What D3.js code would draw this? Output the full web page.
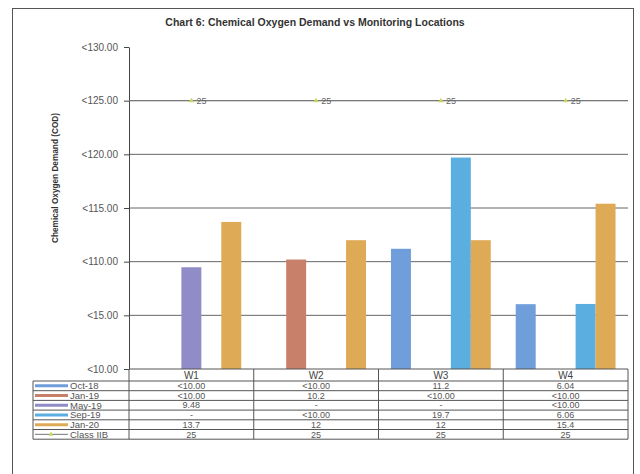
<!DOCTYPE html>
<html>
<head>
<meta charset="utf-8">
<script src="https://cdn.jsdelivr.net/npm/d3@7"></script>
<style>
  body { margin: 0; background: #fff; }
  text { font-family: "Liberation Sans", Arial, sans-serif; }
</style>
</head>
<body>
<div id="chart"></div>
<script>
// categories / series / tick labels
var locations = ["W1", "W2", "W3", "W4"];
var seriesNames = ["Oct-18", "Jan-19", "May-19", "Sep-19", "Jan-20"];
var seriesColors = ["#6f9edb", "#c8806a", "#8f8cc8", "#5aaee0", "#dfaa55"];
// table cells as printed; "<10.00" and "-" get no bar
var oct18 = ["<10.00", "<10.00", "11.2", "6.04"];
var jan19 = ["<10.00", "10.2", "<10.00", "<10.00"];
var may19 = ["9.48", "-", "-", "<10.00"];
var sep19 = ["-", "<10.00", "19.7", "6.06"];
var jan20 = ["13.7", "12", "12", "15.4"];
var classIIB = [25, 25, 25, 25];
var yTicks = [0, 5, 10, 15, 20, 25, 30];
var yTickLabels = ["<10.00", "<15.00", "<110.00", "<115.00", "<120.00", "<125.00", "<130.00"];

var rows = [oct18, jan19, may19, sep19, jan20];

var W = 640, H = 474;
var pLeft = 129, pRight = 628, pTop = 47, pBottom = 369;
var headH = 12, rowH = 9.7, legX = 33;

var svg = d3.select("#chart").append("svg")
    .attr("width", W).attr("height", H);

svg.append("rect").attr("width", W).attr("height", H).attr("fill", "#fff");
// outer chart border (runs off the bottom like the scan)
svg.append("rect")
    .attr("x", 12.5).attr("y", 8.5).attr("width", 621).attr("height", 500)
    .attr("fill", "none").attr("stroke", "#555");

var y = d3.scaleLinear().domain([0, 30]).range([pBottom, pTop]);
var x0 = d3.scaleBand().domain(locations).range([pLeft, pRight]);
var x1 = d3.scaleBand().domain(seriesNames).range([0, x0.bandwidth()])
    .paddingInner(0).paddingOuter(0.625);

// title
svg.append("text")
    .attr("x", 315).attr("y", 26)
    .attr("text-anchor", "middle")
    .attr("font-size", 10.5).attr("font-weight", "bold").attr("fill", "#333")
    .text("Chart 6: Chemical Oxygen Demand vs Monitoring Locations");

// y title
svg.append("text")
    .attr("transform", "translate(58,178) rotate(-90)")
    .attr("text-anchor", "middle")
    .attr("font-size", 8.5).attr("font-weight", "bold").attr("fill", "#333")
    .attr("textLength", 130).attr("lengthAdjust", "spacingAndGlyphs")
    .text("Chemical Oxygen Demand (COD)");

// gridlines
svg.append("g").selectAll("line")
    .data(yTicks.filter(d => d > 0 && d < 30))
    .enter().append("line")
    .attr("x1", pLeft).attr("x2", pRight)
    .attr("y1", d => y(d)).attr("y2", d => y(d))
    .attr("stroke", "#666").attr("stroke-width", 1);

// y axis
var yAxis = svg.append("g")
    .attr("transform", "translate(" + pLeft + ",0)")
    .call(d3.axisLeft(y).tickValues(yTicks)
        .tickFormat((d, i) => yTickLabels[i]).tickSize(5).tickSizeOuter(0));
yAxis.selectAll("text").attr("font-size", 10).attr("fill", "#555")
    .attr("font-family", "Liberation Sans, Arial, sans-serif").attr("x", -11);
yAxis.selectAll("line, path").attr("stroke", "#444");

// bars
var groups = svg.append("g").selectAll("g")
    .data(locations).enter().append("g")
    .attr("transform", d => "translate(" + x0(d) + ",0)");

groups.selectAll("rect")
    .data((d, i) => seriesNames.map((s, j) => ({ s: s, j: j, v: +rows[j][i] })))
    .enter().append("rect")
    .filter(d => !isNaN(d.v))
    .attr("x", d => x1(d.s))
    .attr("width", x1.bandwidth())
    .attr("y", d => y(d.v))
    .attr("height", d => y(0) - y(d.v))
    .attr("fill", d => seriesColors[d.j]);

// Class IIB line + markers + labels
svg.append("line")
    .attr("x1", pLeft).attr("x2", pRight)
    .attr("y1", y(25)).attr("y2", y(25))
    .attr("stroke", "#777");
var mk = svg.append("g").selectAll("g").data(classIIB).enter().append("g")
    .attr("transform", (d, i) => "translate(" + (x0(locations[i]) + x0.bandwidth() / 2) + "," + y(d) + ")");
mk.append("path").attr("d", d3.symbol(d3.symbolTriangle, 12))
    .attr("fill", "#c9d862");
mk.append("text").attr("x", 5).attr("dy", "0.35em")
    .attr("font-size", 9).attr("fill", "#666").text(d => d);

// data table
var tableBottom = pBottom + headH + rowH * 6;
var tg = svg.append("g").attr("stroke", "#555").attr("stroke-width", 1);
tg.append("line").attr("x1", pLeft).attr("x2", pRight).attr("y1", pBottom).attr("y2", pBottom);
d3.range(7).forEach(r => {
  var yy = pBottom + headH + r * rowH;
  tg.append("line").attr("x1", legX).attr("x2", pRight).attr("y1", yy).attr("y2", yy);
});
tg.append("line").attr("x1", legX).attr("x2", legX).attr("y1", pBottom + headH).attr("y2", tableBottom);
[pLeft].concat(locations.map(l => x0(l) + x0.bandwidth())).forEach(xx => {
  tg.append("line").attr("x1", xx).attr("x2", xx).attr("y1", pBottom).attr("y2", tableBottom);
});

// header
svg.append("g").selectAll("text").data(locations).enter().append("text")
    .attr("x", d => x0(d) + x0.bandwidth() / 2).attr("y", pBottom + headH / 2)
    .attr("dy", "0.35em").attr("text-anchor", "middle")
    .attr("font-size", 10).attr("fill", "#444").text(d => d);

// legend column + cells
var allRows = rows.concat([classIIB.map(String)]);
var allNames = seriesNames.concat(["Class IIB"]);
allRows.forEach((vals, r) => {
  var cy = pBottom + headH + r * rowH + rowH / 2;
  if (r < 5) {
    svg.append("line").attr("x1", 35).attr("x2", 68).attr("y1", cy).attr("y2", cy)
        .attr("stroke", seriesColors[r]).attr("stroke-width", 3);
  } else {
    svg.append("line").attr("x1", 35).attr("x2", 68).attr("y1", cy).attr("y2", cy)
        .attr("stroke", "#777");
    svg.append("path").attr("transform", "translate(51," + cy + ")")
        .attr("d", d3.symbol(d3.symbolTriangle, 10)).attr("fill", "#c9d862");
  }
  svg.append("text").attr("x", 70).attr("y", cy).attr("dy", "0.35em")
      .attr("font-size", 9.5).attr("fill", "#555").text(allNames[r]);
  svg.append("g").selectAll("text").data(vals).enter().append("text")
      .attr("x", (d, i) => x0(locations[i]) + x0.bandwidth() / 2)
      .attr("y", cy).attr("dy", "0.35em").attr("text-anchor", "middle")
      .attr("font-size", 9).attr("fill", "#555").text(d => d);
});
</script>
</body>
</html>
